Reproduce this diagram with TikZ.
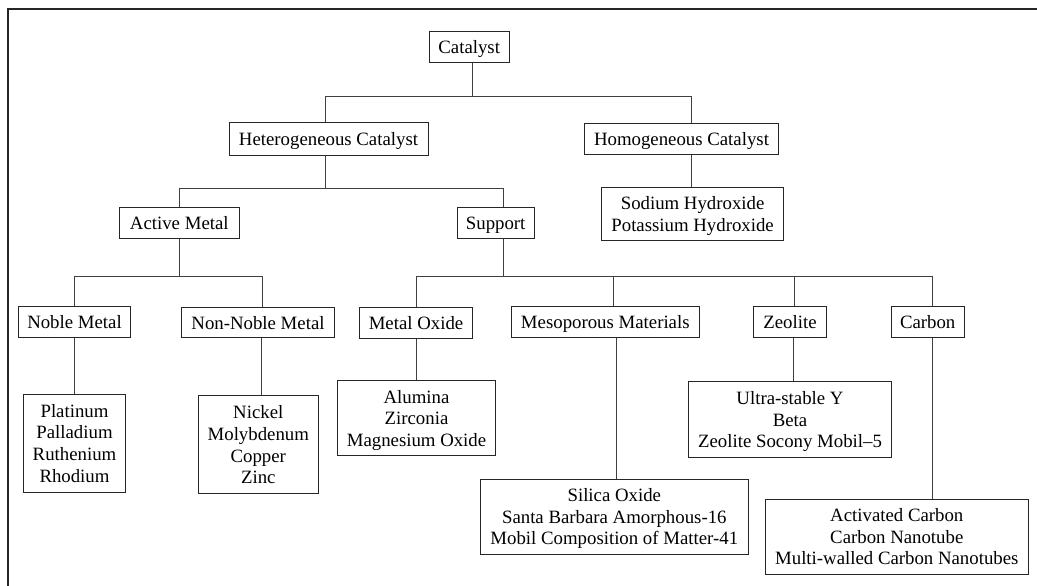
\documentclass[tikz,border=0pt]{standalone}
\usepackage{fontspec}
\setmainfont{Liberation Serif}
\newcommand{\lastln}[1]{\raisebox{0pt}[\height][0pt]{#1}}
\begin{document}
\begin{tikzpicture}[x=1pt,y=-1pt,
  box/.style={draw=black!85,line width=0.9pt,fill=white,inner sep=0pt,align=center,
    font=\fontsize{18.8}{21.7}\selectfont},
  one/.style={box,text height=12.6pt,text depth=0pt},
  conn/.style={draw=black!75,line width=0.9pt},
  frame/.style={draw=black!85,line width=1.3pt}]
\useasboundingbox (0,0) rectangle (1037,586);
\draw[frame] (8,586) -- (8,9) -- (1037,9);
% level 0
\node[one,minimum width=79.7pt,minimum height=30.6pt] (cat) at (469.2,47) {Catalyst};
% level 1
\node[one,minimum width=199pt,minimum height=32.3pt] (het) at (328.5,138.8) {Heterogeneous Catalyst};
\node[one,minimum width=194.4pt,minimum height=31pt] (hom) at (681.5,138.8) {Homogeneous Catalyst};
% level 2
\node[box,minimum width=181.8pt,minimum height=52.8pt] (sod) at (692.6,213.9) {Sodium Hydroxide\\\lastln{Potassium Hydroxide}};
\node[one,minimum width=120pt,minimum height=30.7pt] (act) at (179.3,222.7) {Active Metal};
\node[one,minimum width=76.7pt,minimum height=30.7pt] (sup) at (495.7,222.7) {Support};
% level 3
\node[one,minimum width=112.4pt,minimum height=30.6pt] (nob) at (74.5,322) {Noble Metal};
\node[one,minimum width=152.6pt,minimum height=30pt] (non) at (258,322.7) {Non-Noble Metal};
\node[one,minimum width=113.4pt,minimum height=30.7pt] (mox) at (416,322.7) {Metal Oxide};
\node[one,minimum width=188pt,minimum height=30.6pt] (mes) at (605.3,322) {Mesoporous Materials};
\node[one,minimum width=73.4pt,minimum height=30.6pt] (zeo) at (790,322) {Zeolite};
\node[one,minimum width=73.3pt,minimum height=30.6pt] (car) at (927.7,322) {Carbon};
% level 4
\node[box,minimum width=102.4pt,minimum height=98pt] (pla) at (74.5,443.3) {Platinum\\Palladium\\Ruthenium\\\lastln{Rhodium}};
\node[box,minimum width=120pt,minimum height=98pt] (nic) at (258.3,444.7) {Nickel\\Molybdenum\\Copper\\\lastln{Zinc}};
\node[box,minimum width=157.6pt,minimum height=75pt] (alu) at (416.5,418.2) {Alumina\\Zirconia\\\lastln{Magnesium Oxide}};
\node[box,minimum width=268pt,minimum height=75.3pt] (sil) at (614.3,516.7) {Silica Oxide\\Santa Barbara Amorphous-16\\\lastln{Mobil Composition of Matter-41}};
\node[box,minimum width=202.6pt,minimum height=75.6pt] (ult) at (790,419.5) {Ultra-stable Y\\Beta\\\lastln{Zeolite Socony Mobil--5}};
\node[box,minimum width=263pt,minimum height=75.3pt] (acc) at (896.8,536.7) {Activated Carbon\\Carbon Nanotube\\\lastln{Multi-walled Carbon Nanotubes}};
% bus coordinates
\coordinate (b1) at (0,96);
\coordinate (b2) at (0,188);
\coordinate (b3) at (0,276.7);
% connector end points
\coordinate (catS) at ([xshift=3.5pt]cat.south);
\coordinate (hetN) at ([xshift=-3.5pt]het.north);
\coordinate (hetS) at ([xshift=-3.5pt]het.south);
\coordinate (homN) at ([xshift=9.8pt]hom.north);
\coordinate (homS) at ([xshift=10pt]hom.south);
\coordinate (supN) at ([xshift=8pt]sup.north);
\coordinate (supS) at ([xshift=8pt]sup.south);
\coordinate (nonN) at ([xshift=4.3pt]non.north);
\coordinate (nonS) at ([xshift=3.3pt]non.south);
\coordinate (mesN) at ([xshift=8pt]mes.north);
\coordinate (mesS) at ([xshift=11pt]mes.south);
\coordinate (zeoN) at ([xshift=4.7pt]zeo.north);
\coordinate (zeoS) at ([xshift=3.7pt]zeo.south);
\coordinate (carN) at ([xshift=5pt]car.north);
\coordinate (carS) at ([xshift=4.6pt]car.south);
% connectors
\draw[conn] (catS) -- (catS |- b1);
\draw[conn] (hetN) -- (hetN |- b1) -- (homN |- b1) -- (homN);
\draw[conn] (homS) -- (homS |- sod.north);
\draw[conn] (hetS) -- (hetS |- b2);
\draw[conn] (act.north) -- (act.north |- b2) -- (supN |- b2) -- (supN);
\draw[conn] (act.south) -- (act.south |- b3);
\draw[conn] (nob.north) -- (nob.north |- b3) -- (nonN |- b3) -- (nonN);
\draw[conn] (supS) -- (supS |- b3);
\draw[conn] (mox.north) -- (mox.north |- b3) -- (carN |- b3) -- (carN);
\draw[conn] (mesN) -- (mesN |- b3);
\draw[conn] (zeoN) -- (zeoN |- b3);
\draw[conn] (nob.south) -- (nob.south |- pla.north);
\draw[conn] (nonS) -- (nonS |- nic.north);
\draw[conn] (mox.south) -- (mox.south |- alu.north);
\draw[conn] (mesS) -- (mesS |- sil.north);
\draw[conn] (zeoS) -- (zeoS |- ult.north);
\draw[conn] (carS) -- (carS |- acc.north);
\end{tikzpicture}
\end{document}
